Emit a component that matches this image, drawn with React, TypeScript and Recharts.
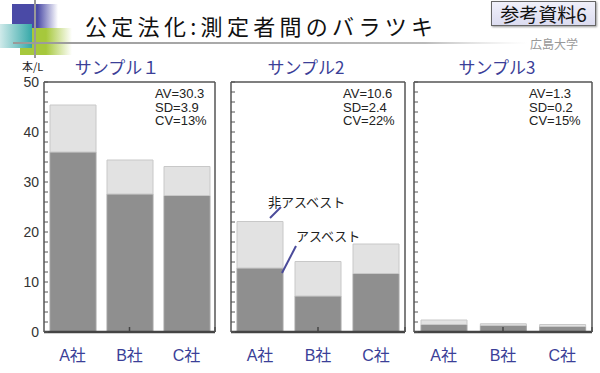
import { BarChart, Bar, XAxis, YAxis } from 'recharts';

const companies = ['A社', 'B社', 'C社'];
const sampleTitles = ['サンプル１', 'サンプル2', 'サンプル3'];

// asbestos (dark) + non-asbestos (light) fibre counts, 本/L
const asbestos1 = [36.0, 27.6, 27.3];
const nonAsbestos1 = [9.4, 6.8, 5.8];
const asbestos2 = [12.8, 7.2, 11.7];
const nonAsbestos2 = [9.3, 6.9, 5.9];
const asbestos3 = [1.5, 1.3, 1.1];
const nonAsbestos3 = [0.9, 0.35, 0.4];

const stats1 = ['AV=30.3', 'SD=3.9', 'CV=13%'];
const stats2 = ['AV=10.6', 'SD=2.4', 'CV=22%'];
const stats3 = ['AV=1.3', 'SD=0.2', 'CV=15%'];

const yTicks = [0, 10, 20, 30, 40, 50];
const minorTicks = [0, 2, 4, 6, 8, 10, 12, 14, 16, 18, 20, 22, 24, 26, 28, 30, 32, 34, 36, 38, 40, 42, 44, 46, 48, 50];
const sepTicks = [1, 2];

const panels = [
  { asb: asbestos1, non: nonAsbestos1, stats: stats1, left: 44, right: 215, titleX: 117, statsX: 155 },
  { asb: asbestos2, non: nonAsbestos2, stats: stats2, left: 231, right: 405, titleX: 306, statsX: 343 },
  { asb: asbestos3, non: nonAsbestos3, stats: stats3, left: 414, right: 592, titleX: 497, statsX: 529 },
];

const BLUE = '#3b3f98';
const FONT = "'Liberation Sans', 'Noto Sans CJK JP', sans-serif";
const JP = "'Noto Sans CJK JP', sans-serif";

const Panel = ({ idx }: { idx: number }) => {
  const p = panels[idx];
  const data = companies.map((c, i) => ({ name: c, asb: p.asb[i], non: p.non[i] }));
  const withLabels = idx === 0;
  const yW = 40;
  return (
    <div style={{ position: 'absolute', left: 0, top: 0 }}>
      <BarChart
        width={600}
        height={373}
        data={data}
        barSize={46}
        margin={{ top: 82, right: 600 - p.right, bottom: 11, left: withLabels ? p.left - yW : p.left }}
      >
        <XAxis
          xAxisId="cat"
          dataKey="name"
          height={30}
          tickLine={false}
          tickSize={0}
          tickMargin={18}
          axisLine={{ stroke: '#444', strokeWidth: 2.5 }}
          tick={{ fill: BLUE, fontSize: 16, fontFamily: FONT }}
        />
        <XAxis
          xAxisId="sep"
          type="number"
          domain={[0, 3]}
          allowDataOverflow
          ticks={sepTicks}
          mirror
          axisLine={false}
          tickSize={5}
          tickFormatter={() => ''}
          tickLine={{ stroke: '#444', strokeWidth: 1.5 }}
        />
        <XAxis
          xAxisId="top"
          orientation="top"
          type="number"
          domain={[0, 3]}
          allowDataOverflow
          ticks={sepTicks}
          mirror
          tick={false}
          tickLine={false}
          axisLine={{ stroke: '#555', strokeWidth: 1.5 }}
        />
        {withLabels && (
          <YAxis
            yAxisId="lab"
            width={yW}
            type="number"
            domain={[0, 50]}
            allowDataOverflow
            ticks={yTicks}
            axisLine={false}
            tickLine={false}
            tickSize={0}
            tickMargin={5}
            tick={{ fill: '#333', fontSize: 14, fontFamily: FONT }}
          />
        )}
        <YAxis
          yAxisId="r"
          orientation="right"
          type="number"
          domain={[0, 50]}
          allowDataOverflow
          ticks={yTicks}
          mirror
          tick={false}
          tickLine={false}
          axisLine={{ stroke: '#555', strokeWidth: 1.5 }}
        />
        <YAxis
          yAxisId="m"
          mirror
          type="number"
          domain={[0, 50]}
          allowDataOverflow
          ticks={minorTicks}
          tickSize={4}
          tickFormatter={() => ''}
          axisLine={{ stroke: '#555', strokeWidth: 1.5 }}
          tickLine={{ stroke: '#555' }}
        />
        <Bar xAxisId="cat" yAxisId="m" dataKey="asb" stackId="s" fill="#8f8f8f" stroke="#a4a4a4" isAnimationActive={false} />
        <Bar xAxisId="cat" yAxisId="m" dataKey="non" stackId="s" fill="#e2e2e2" stroke="#c8c8c8" isAnimationActive={false} />
      </BarChart>
    </div>
  );
};

const App = () => {
  return (
    <div style={{ position: 'absolute', left: 0, top: 0, width: 600, height: 373, background: '#fff', fontFamily: FONT, overflow: 'hidden' }}>
      {/* header decoration */}
      <svg width={600} height={60} style={{ position: 'absolute', left: 0, top: 0 }}>
        <defs>
          <linearGradient id="gBlue" x1="0" x2="1" y1="0" y2="0">
            <stop offset="0.55" stopColor="#4a4aa6" />
            <stop offset="1" stopColor="#4a4aa6" stopOpacity="0" />
          </linearGradient>
          <linearGradient id="gGreen" x1="0" x2="1" y1="0" y2="0">
            <stop offset="0.5" stopColor="#a6c83c" />
            <stop offset="1" stopColor="#a6c83c" stopOpacity="0" />
          </linearGradient>
          <linearGradient id="gTeal" x1="0" x2="1" y1="0" y2="0">
            <stop offset="0" stopColor="#cfeaea" />
            <stop offset="1" stopColor="#35a8a8" />
          </linearGradient>
          <linearGradient id="gLine" x1="0" x2="1" y1="0" y2="0">
            <stop offset="0" stopColor="#999" />
            <stop offset="0.8" stopColor="#bbb" />
            <stop offset="1" stopColor="#ddd" stopOpacity="0" />
          </linearGradient>
        </defs>
        <rect x={12} y={4} width={46} height={24} fill="url(#gBlue)" />
        <rect x={20} y={28} width={52} height={27} fill="url(#gGreen)" />
        <rect x={0} y={24} width={32} height={24} fill="url(#gTeal)" />
        <rect x={34} y={0} width={2} height={58} fill="#999" />
        <rect x={13} y={42} width={515} height={2} fill="url(#gLine)" />
      </svg>
      <div style={{ position: 'absolute', left: 85, top: 10, fontSize: 22, letterSpacing: 4.3, color: '#111', fontFamily: JP, lineHeight: '30px', whiteSpace: 'nowrap' }}>
        公定法化:測定者間のバラツキ
      </div>
      <div style={{ position: 'absolute', left: 491, top: 1, width: 105, height: 25, boxSizing: 'border-box', border: '1px solid #666', background: 'linear-gradient(#f0f0fa, #dcdcf0)', boxShadow: '1px 1px 2px #999', fontSize: 19, lineHeight: '23px', textAlign: 'center', color: '#111', fontFamily: JP }}>
        参考資料6
      </div>
      <div style={{ position: 'absolute', left: 530, top: 36, fontSize: 12, color: '#999', lineHeight: '16px', fontFamily: JP }}>広島大学</div>
      <div style={{ position: 'absolute', left: 22, top: 59, fontSize: 11, color: '#222', lineHeight: '14px', fontFamily: JP }}>本/L</div>

      {panels.map((p, i) => (
        <div key={'t' + i} style={{ position: 'absolute', left: p.titleX - 60, top: 56, width: 120, textAlign: 'center', fontSize: 17, color: BLUE, lineHeight: '22px', fontFamily: JP }}>
          {sampleTitles[i]}
        </div>
      ))}

      {panels.map((p, i) => (
        <Panel key={'p' + i} idx={i} />
      ))}

      {panels.map((p, i) => (
        <div key={'s' + i} style={{ position: 'absolute', left: p.statsX, top: 87, fontSize: 13, lineHeight: '13.5px', color: '#222' }}>
          {p.stats.map((s) => (
            <div key={s}>{s}</div>
          ))}
        </div>
      ))}

      {/* annotations in sample 2 */}
      <svg width={600} height={373} style={{ position: 'absolute', left: 0, top: 0, pointerEvents: 'none' }}>
        <line x1={270} y1={218} x2={281} y2={207} stroke="#4b4b9a" strokeWidth={2} />
        <line x1={282} y1={273} x2={296} y2={246} stroke="#4b4b9a" strokeWidth={2} />
      </svg>
      <div style={{ position: 'absolute', left: 268, top: 193, fontSize: 13, color: '#222', lineHeight: '17px', fontFamily: JP }}>非アスベスト</div>
      <div style={{ position: 'absolute', left: 296, top: 227, fontSize: 13, color: '#222', lineHeight: '17px', fontFamily: JP }}>アスベスト</div>
    </div>
  );
};

export default App;
